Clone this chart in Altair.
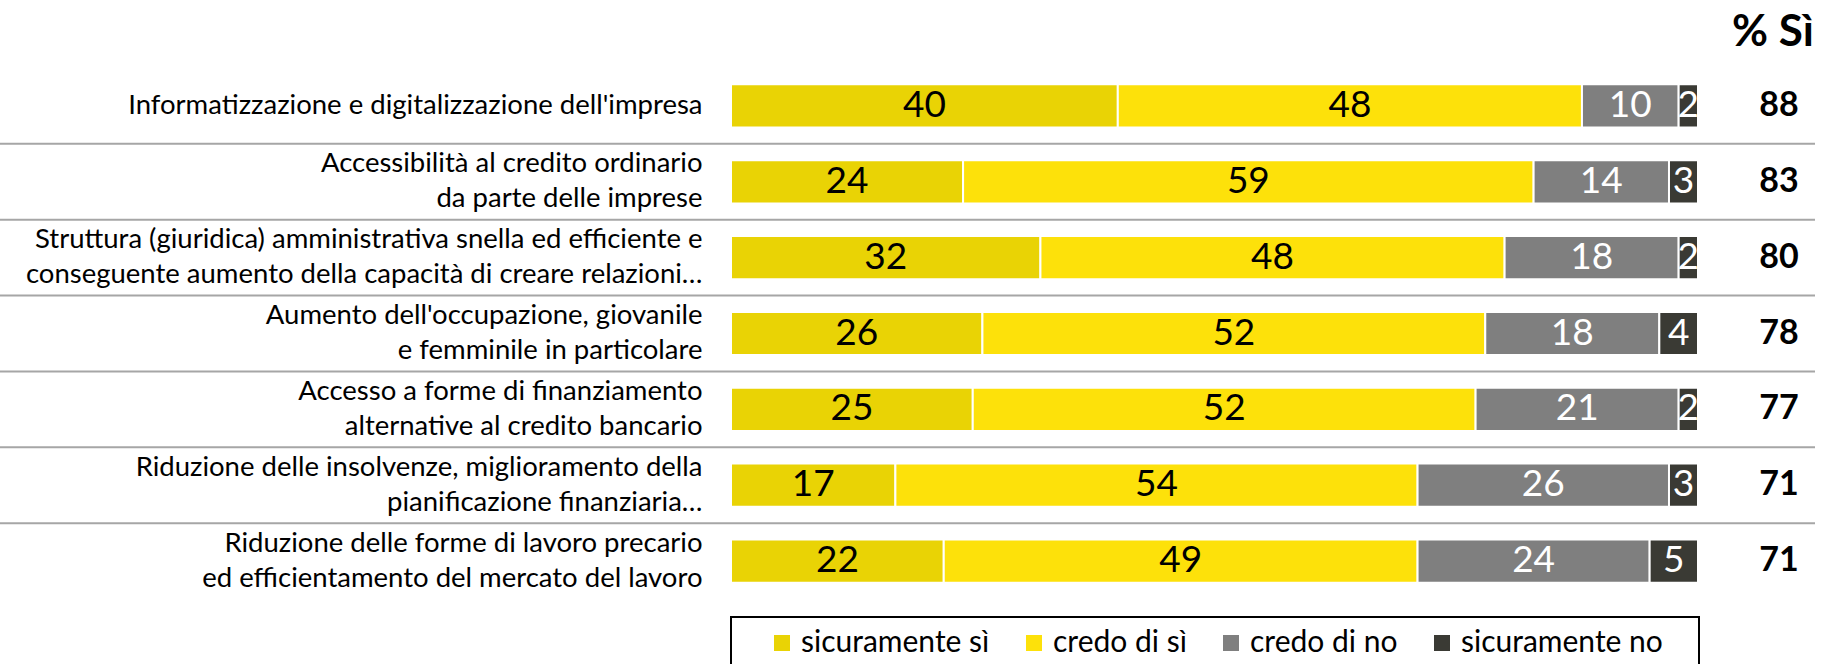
import altair as alt
import pandas as pd

FONT = "Lato"

items = [
    "Informatizzazione e digitalizzazione dell'impresa",
    "Accessibilità al credito ordinario\nda parte delle imprese",
    "Struttura (giuridica) amministrativa snella ed efficiente e\nconseguente aumento della capacità di creare relazioni…",
    "Aumento dell'occupazione, giovanile\ne femminile in particolare",
    "Accesso a forme di finanziamento\nalternative al credito bancario",
    "Riduzione delle insolvenze, miglioramento della\npianificazione finanziaria…",
    "Riduzione delle forme di lavoro precario\ned efficientamento del mercato del lavoro",
]
series = ["sicuramente sì", "credo di sì", "credo di no", "sicuramente no"]
sicuramente_si = [40, 24, 32, 26, 25, 17, 22]
credo_si = [48, 59, 48, 52, 52, 54, 49]
credo_no = [10, 14, 18, 18, 21, 26, 24]
sicuramente_no = [2, 3, 2, 4, 2, 3, 5]
pct_si = [88, 83, 80, 78, 77, 71, 71]
colors = ["#E9D305", "#FDE10A", "#7F7F7F", "#3A3A34"]

rows = []
for i, it in enumerate(items):
    start = 0
    for k, (s, vals) in enumerate(zip(series, [sicuramente_si, credo_si, credo_no, sicuramente_no])):
        v = vals[i]
        rows.append(dict(item=it, series=s, value=v, start=start, end=start + v,
                         mid=start + v / 2, order=k))
        start += v
df = pd.DataFrame(rows)
dfp = pd.DataFrame({"item": items, "pct": pct_si})
dfsep = pd.DataFrame({"item": items[:-1]})

yaxis = alt.Axis(labelExpr="split(datum.label, '\\n')", domain=False, ticks=False,
                 labelPadding=29, labelFontSize=27.5, labelFont=FONT, labelColor="black",
                 labelLimit=0, labelLineHeight=35, title=None, grid=False,
                 labelOffset={"condition": {"test": "indexof(datum.label, '\\n') >= 0", "value": -17.5},
                              "value": 0})
yscale = alt.Scale(paddingInner=0, paddingOuter=0)
yenc = alt.Y("item:N", sort=items, scale=yscale, axis=yaxis, title=None)
xscale = alt.Scale(domain=[0, 100], nice=False, zero=True)

seps = alt.Chart(dfsep).mark_rule(color="#A6A6A6", strokeWidth=2).encode(
    y=alt.Y("item:N", sort=items, scale=yscale, axis=yaxis, title=None, bandPosition=1),
    x=alt.value(-731), x2=alt.value(1084),
)

bars = alt.Chart(df).mark_bar(height=alt.RelativeBandSize(band=0.57), stroke="white", strokeWidth=2).encode(
    x=alt.X("start:Q", scale=xscale, axis=None, title=None),
    x2="end:Q",
    y=yenc,
    color=alt.Color("series:N", sort=series, scale=alt.Scale(domain=series, range=colors),
                    legend=alt.Legend(orient="none", legendX=36, legendY=560, direction="horizontal",
                                      title=None, symbolType="square", symbolSize=256,
                                      symbolStrokeWidth=0, labelFontSize=30, labelFont=FONT,
                                      labelColor="black", columnPadding=29, labelOffset=4,
                                      padding=0, labelLimit=0)),
)

nums = alt.Chart(df).mark_text(fontSize=37, font=FONT).encode(
    x=alt.X("mid:Q", scale=xscale, axis=None),
    y=yenc,
    text="value:Q",
    color=alt.condition("datum.order >= 2", alt.value("white"), alt.value("black")),
)

pct = alt.Chart(dfp).mark_text(fontSize=34, font=FONT, fontWeight="bold", color="black").encode(
    x=alt.value(1048), y=yenc, text="pct:Q",
)

header = alt.Chart(pd.DataFrame({"t": ["% Sì"]})).mark_text(
    fontSize=44, font=FONT, fontWeight="bold", color="black").encode(
    x=alt.value(1042), y=alt.value(-35), text="t:N",
)

box = alt.Chart(pd.DataFrame({"a": [0]})).mark_rect(fill="white", stroke="black", strokeWidth=2).encode(
    x=alt.value(0), x2=alt.value(968), y=alt.value(549), y2=alt.value(640),
)

chart = alt.layer(seps, box, bars, nums, pct, header).properties(
    width=967, height=531,
    autosize=alt.AutoSizeParams(type="none"),
    padding={"left": 731, "top": 68, "right": 124, "bottom": 65},
).configure(background="white").configure_view(stroke=None, strokeWidth=0)

chart.save("out.html", embed_options={"renderer": "svg", "actions": False})
